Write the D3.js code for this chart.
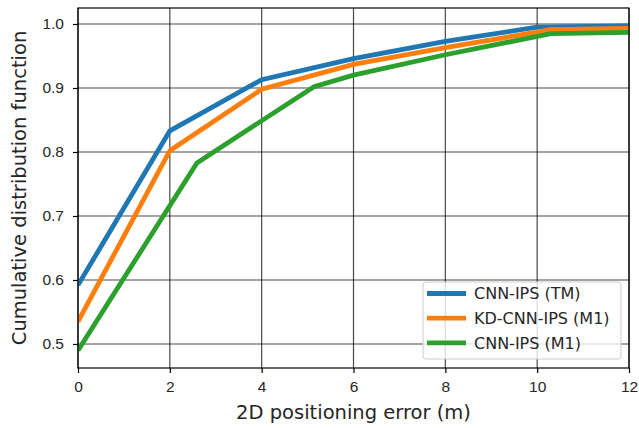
<!DOCTYPE html>
<html>
<head>
<meta charset="utf-8">
<script src="https://cdn.jsdelivr.net/npm/d3@7"></script>
<style>
  body { margin: 0; background: #fff; }
  svg { display: block; font-family: "DejaVu Sans", sans-serif; }
  .tick text { font-size: 15.5px; fill: #262626; }
</style>
</head>
<body>
<svg id="chart" width="639" height="428"></svg>
<script>
// series
const seriesNames = ['CNN-IPS (TM)', 'KD-CNN-IPS (M1)', 'CNN-IPS (M1)'];
const seriesColors = ['#1f77b4', '#ff7f0e', '#2ca02c'];

const tmX = [0, 2, 4, 6, 8, 10, 12];
const tmY = [0.592, 0.833, 0.913, 0.946, 0.973, 0.995, 0.997];

const kdX = [0, 2, 4, 6, 8, 10.3, 12];
const kdY = [0.535, 0.802, 0.898, 0.937, 0.963, 0.991, 0.993];

const m1X = [0, 2.59, 5.14, 6, 8, 10.3, 12];
const m1Y = [0.49, 0.783, 0.902, 0.92, 0.952, 0.985, 0.987];

const xTicks = [0, 2, 4, 6, 8, 10, 12];
const yTicks = [0.5, 0.6, 0.7, 0.8, 0.9, 1.0];

const svg = d3.select('#chart');
const margin = { left: 78, right: 10, top: 8, bottom: 60 };
const width = 639, height = 428;

const x = d3.scaleLinear().domain([0, 12]).range([margin.left, width - margin.right]);
const y = d3.scaleLinear().domain([0.4625, 1.025]).range([height - margin.bottom, margin.top]);

// grid
const grid = svg.append('g').attr('stroke', '#000').attr('stroke-opacity', 0.72).attr('stroke-width', 1.2);
grid.selectAll('.gx').data(xTicks).join('line')
    .attr('x1', d => x(d)).attr('x2', d => x(d))
    .attr('y1', y.range()[0]).attr('y2', y.range()[1]);
grid.selectAll('.gy').data(yTicks).join('line')
    .attr('y1', d => y(d)).attr('y2', d => y(d))
    .attr('x1', x.range()[0]).attr('x2', x.range()[1]);

// lines
const series = [
    { xs: tmX, ys: tmY },
    { xs: kdX, ys: kdY },
    { xs: m1X, ys: m1Y }
];
const line = d3.line().x(d => x(d[0])).y(d => y(d[1]));

svg.append('clipPath').attr('id', 'clip').append('rect')
    .attr('x', x.range()[0]).attr('y', y.range()[1])
    .attr('width', x.range()[1] - x.range()[0])
    .attr('height', y.range()[0] - y.range()[1]);

const plot = svg.append('g').attr('clip-path', 'url(#clip)');
series.forEach((s, i) => {
    const pts = s.xs.map((v, j) => [v, s.ys[j]]);
    plot.append('path')
        .datum(pts)
        .attr('d', line)
        .attr('fill', 'none')
        .attr('stroke', seriesColors[i])
        .attr('stroke-width', 4.8)
        .attr('stroke-linejoin', 'miter');
});

// axes
const xAxis = svg.append('g')
    .attr('transform', `translate(0,${y.range()[0]})`)
    .call(d3.axisBottom(x).tickValues(xTicks).tickSize(5).tickPadding(8).tickFormat(d3.format('d')));
const yAxis = svg.append('g')
    .attr('transform', `translate(${x.range()[0]},0)`)
    .call(d3.axisLeft(y).tickValues(yTicks).tickSize(5).tickPadding(9).tickFormat(d3.format('.1f')));
[xAxis, yAxis].forEach(a => {
    a.select('.domain').remove();
    a.selectAll('.tick line').attr('stroke', '#000').attr('stroke-width', 1.2);
});

// frame
svg.append('rect')
    .attr('x', x.range()[0]).attr('y', y.range()[1])
    .attr('width', x.range()[1] - x.range()[0])
    .attr('height', y.range()[0] - y.range()[1])
    .attr('fill', 'none').attr('stroke', '#000').attr('stroke-width', 1.2);

// axis labels
svg.append('text')
    .attr('x', (x.range()[0] + x.range()[1]) / 2)
    .attr('y', 419)
    .attr('text-anchor', 'middle')
    .attr('font-size', 19.5)
    .attr('fill', '#262626')
    .text('2D positioning error (m)');
svg.append('text')
    .attr('transform', `translate(26,${(y.range()[0] + y.range()[1]) / 2}) rotate(-90)`)
    .attr('text-anchor', 'middle')
    .attr('font-size', 19.5)
    .attr('fill', '#262626')
    .text('Cumulative distribution function');

// legend
const legend = svg.append('g').attr('transform', 'translate(423,282)');
legend.append('rect')
    .attr('width', 198).attr('height', 77)
    .attr('rx', 3)
    .attr('fill', '#fff').attr('fill-opacity', 0.8)
    .attr('stroke', '#cccccc');
seriesNames.forEach((name, i) => {
    const row = legend.append('g').attr('transform', `translate(0,${11.5 + i * 24.7})`);
    row.append('line')
        .attr('x1', 4).attr('x2', 43)
        .attr('stroke', seriesColors[i]).attr('stroke-width', 4.8);
    row.append('text')
        .attr('x', 51).attr('dy', '0.36em')
        .attr('font-size', 16)
        .attr('fill', '#262626')
        .text(name);
});
</script>
</body>
</html>
